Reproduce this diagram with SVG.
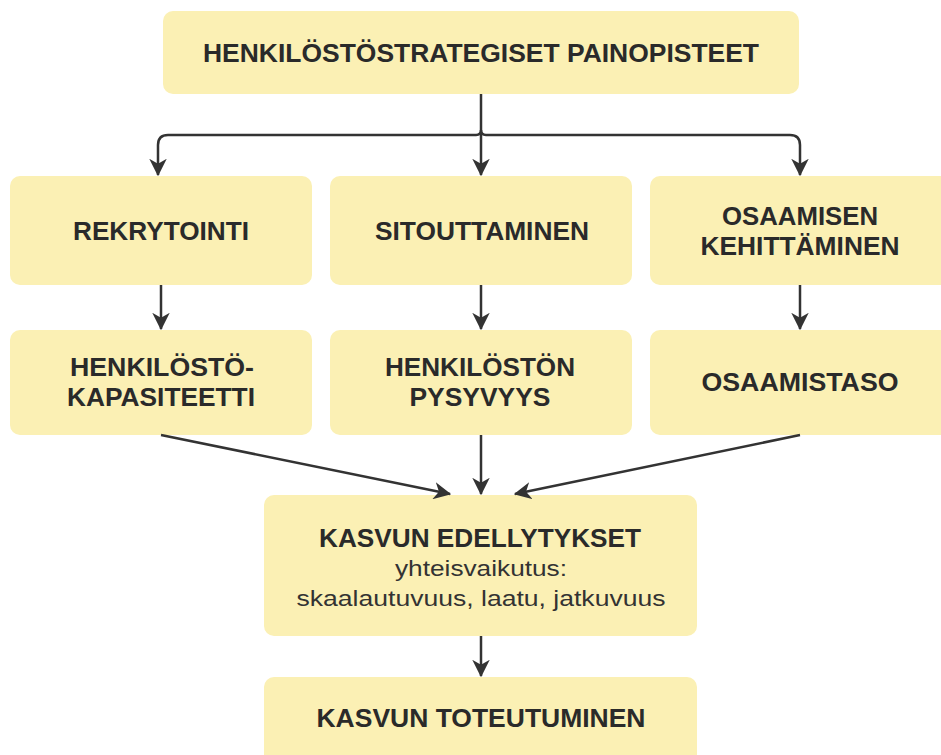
<svg xmlns="http://www.w3.org/2000/svg" width="941" height="755" viewBox="0 0 941 755">
  <style>
    .box { fill: #FBF0B4; }
    .t { font-family: "Liberation Sans", Arial, sans-serif; font-weight: bold; font-size: 25px; fill: #2a2a2a; text-anchor: middle; }
    .r { font-family: "Liberation Sans", Arial, sans-serif; font-size: 22px; fill: #333; text-anchor: middle; }
    .c { fill: none; stroke: #333; stroke-width: 2.5; }
  </style>
  <defs>
    <marker id="ah" viewBox="0 0 14 14" refX="13" refY="7" markerWidth="7" markerHeight="7" orient="auto" markerUnits="strokeWidth">
      <path d="M0,0 L14,7 L0,14 L4,7 Z" fill="#333"/>
    </marker>
  </defs>
  <rect width="941" height="755" fill="#fff"/>

  <g id="painopisteet">
    <rect class="box" x="163" y="11" width="636" height="83" rx="10"/>
    <text class="t" x="481" y="62" textLength="556" lengthAdjust="spacingAndGlyphs">HENKILÖSTÖSTRATEGISET PAINOPISTEET</text>
  </g>
  <g id="rekrytointi">
    <rect class="box" x="10" y="176" width="302" height="109" rx="10"/>
    <text class="t" x="161" y="240" textLength="176" lengthAdjust="spacingAndGlyphs">REKRYTOINTI</text>
  </g>
  <g id="sitouttaminen">
    <rect class="box" x="330" y="176" width="302" height="109" rx="10"/>
    <text class="t" x="482" y="240" textLength="214" lengthAdjust="spacingAndGlyphs">SITOUTTAMINEN</text>
  </g>
  <g id="osaamisen-kehittaminen">
    <rect class="box" x="650" y="176" width="302" height="109" rx="10"/>
    <text class="t" x="800" y="225" textLength="156" lengthAdjust="spacingAndGlyphs">OSAAMISEN</text>
    <text class="t" x="800" y="255" textLength="199" lengthAdjust="spacingAndGlyphs">KEHITTÄMINEN</text>
  </g>
  <g id="henkilostokapasiteetti">
    <rect class="box" x="10" y="330" width="302" height="105" rx="10"/>
    <text class="t" x="162" y="376" textLength="184" lengthAdjust="spacingAndGlyphs">HENKILÖSTÖ-</text>
    <text class="t" x="161" y="406" textLength="188" lengthAdjust="spacingAndGlyphs">KAPASITEETTI</text>
  </g>
  <g id="henkiloston-pysyvyys">
    <rect class="box" x="330" y="330" width="302" height="105" rx="10"/>
    <text class="t" x="480" y="376" textLength="190" lengthAdjust="spacingAndGlyphs">HENKILÖSTÖN</text>
    <text class="t" x="480" y="406" textLength="141" lengthAdjust="spacingAndGlyphs">PYSYVYYS</text>
  </g>
  <g id="osaamistaso">
    <rect class="box" x="650" y="330" width="302" height="105" rx="10"/>
    <text class="t" x="800" y="391" textLength="197" lengthAdjust="spacingAndGlyphs">OSAAMISTASO</text>
  </g>
  <g id="kasvun-edellytykset">
    <rect class="box" x="264" y="495" width="433" height="141" rx="10"/>
    <text class="t" x="480" y="547" textLength="322" lengthAdjust="spacingAndGlyphs">KASVUN EDELLYTYKSET</text>
    <text class="r" x="481" y="576" textLength="172" lengthAdjust="spacingAndGlyphs">yhteisvaikutus:</text>
    <text class="r" x="481" y="606" textLength="369" lengthAdjust="spacingAndGlyphs">skaalautuvuus, laatu, jatkuvuus</text>
  </g>
  <g id="kasvun-toteutuminen">
    <rect class="box" x="264" y="677" width="433" height="100" rx="10"/>
    <text class="t" x="481" y="727" textLength="329" lengthAdjust="spacingAndGlyphs">KASVUN TOTEUTUMINEN</text>
  </g>

  <g id="connectors">
    <path class="c" d="M481,94 V175" marker-end="url(#ah)"/>
    <path class="c" d="M476,135 H168 Q158,135 158,145 V175" marker-end="url(#ah)"/>
    <path class="c" d="M486,135 H790 Q800,135 800,145 V175" marker-end="url(#ah)"/>
    <path class="c" d="M476,135 Q481,135 481,130 Q481,135 486,135"/>
    <path class="c" d="M161,285 V329" marker-end="url(#ah)"/>
    <path class="c" d="M481,285 V329" marker-end="url(#ah)"/>
    <path class="c" d="M800,285 V329" marker-end="url(#ah)"/>
    <path class="c" d="M161,435 L450,494" marker-end="url(#ah)"/>
    <path class="c" d="M481,435 V494" marker-end="url(#ah)"/>
    <path class="c" d="M800,435 L515,494" marker-end="url(#ah)"/>
    <path class="c" d="M481,636 V676" marker-end="url(#ah)"/>
  </g>
</svg>
